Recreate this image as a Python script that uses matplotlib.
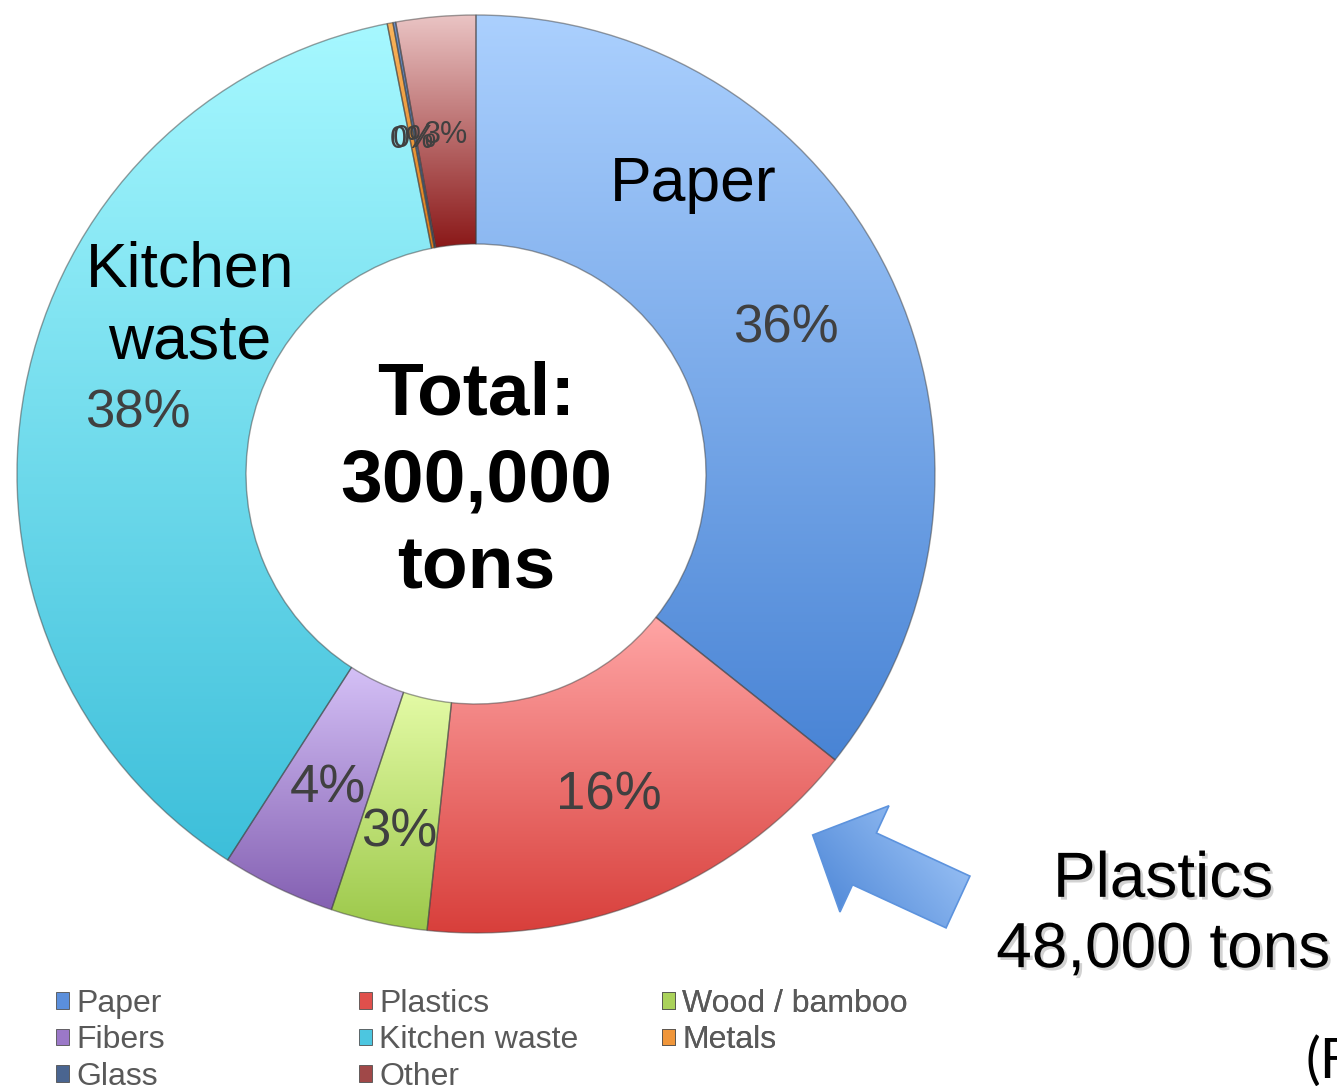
import numpy as np
import matplotlib
matplotlib.use("Agg")
import matplotlib.pyplot as plt
from matplotlib.patches import Patch, FancyArrow
from matplotlib.colors import LinearSegmentedColormap
import matplotlib.patheffects as pe

plt.rcParams['font.family'] = ['Liberation Sans', 'DejaVu Sans']

# ---- data ----
categories = ["Paper", "Plastics", "Wood / bamboo", "Fibers", "Kitchen waste",
              "Metals", "Glass", "Other"]
shares = [35.7, 16.0, 3.4, 4.0, 37.8, 0.2, 0.1, 2.8]  # percent of total
total_label = "Total:\n300,000\ntons"
callout_label = "Plastics\n48,000 tons"

top_colors = ["#abd0fe", "#ffa5a5", "#e4fba6", "#d4c0f6", "#a6f8ff",
              "#fab45c", "#6e90c4", "#eac4c4"]
bottom_colors = ["#4984d5", "#d83f3b", "#9cc84a", "#8460b2", "#3dbfda",
                 "#de7d1a", "#33507a", "#8a1818"]
legend_colors = ["#5b8fdc", "#e0504c", "#aad25a", "#9b78c8", "#4cc6e0",
                 "#f0963a", "#4a6590", "#a04848"]
label_sizes = [38, 38, 38, 38, 38, 22, 22, 22]
label_dist = [0.75, 0.75, 0.79, 0.75, 0.75, 0.75, 0.75, 0.75]

W, H = 1337, 1086
fig = plt.figure(figsize=(W / 100, H / 100), dpi=100)
ax = fig.add_axes([0, 0, 1, 1])

cx, cy = 476, H - 474
R = 459
ring = 229

wedges, _ = ax.pie(shares, startangle=90, counterclock=False, radius=R,
                   center=(cx, cy),
                   wedgeprops=dict(width=ring, edgecolor=(0.25, 0.25, 0.25, 0.5),
                                   linewidth=1.0))

# vertical gradient fill per wedge
for w, ct, cb in zip(wedges, top_colors, bottom_colors):
    ext = w.get_path().get_extents()
    cmap = LinearSegmentedColormap.from_list("g", [cb, ct])
    grad = np.linspace(0, 1, 256).reshape(-1, 1)
    im = ax.imshow(grad, cmap=cmap, origin="lower", aspect="auto",
                   extent=(ext.x0, ext.x1, ext.y0, ext.y1), zorder=1,
                   interpolation="bilinear")
    im.set_clip_path(w)
    w.set_facecolor("none")
    w.set_zorder(2)

# percent labels (computed from wedge angles)
for w, v, fs, d in zip(wedges, shares, label_sizes, label_dist):
    ang = np.deg2rad((w.theta1 + w.theta2) / 2)
    x = cx + R * d * np.cos(ang)
    y = cy + R * d * np.sin(ang) - 4
    ax.text(x, y, f"{v:.0f}%", ha="center", va="center", fontsize=fs,
            color="#404040", zorder=5)

# category labels on the ring
ax.text(693, H - 185, "Paper", ha="center", va="center", fontsize=45,
        color="black", zorder=5)
ax.text(190, H - 306, "Kitchen\nwaste", ha="center", va="center", fontsize=45,
        color="black", linespacing=1.3, zorder=5)

# center total
ax.text(cx, H - 482, total_label, ha="center", va="center", fontsize=54,
        fontweight="bold", color="black", linespacing=1.33, zorder=5)

# callout
shadow = [pe.SimplePatchShadow(offset=(2, -2), shadow_rgbFace="gray", alpha=0.35),
          pe.Normal()]
ax.text(1163, H - 915, callout_label, ha="center", va="center", fontsize=46,
        color="black", linespacing=1.22, zorder=5, path_effects=shadow)
ax.text(1305, H - 1078, "(F", ha="left", va="baseline", fontsize=40,
        color="black", family=["Lato", "DejaVu Sans"], zorder=5)

# block arrow with diagonal gradient
tail = (958, H - 902)
tip = (812.7, H - 835)
arr = FancyArrow(tail[0], tail[1], tip[0] - tail[0], tip[1] - tail[1], width=57,
                 head_width=117, head_length=57, length_includes_head=True,
                 facecolor="none", edgecolor="#5d93dd", linewidth=1.2, zorder=4)
ax.add_patch(arr)
ax_ext = arr.get_path().get_extents(arr.get_patch_transform())
gx, gy = np.meshgrid(np.linspace(0, 1, 200), np.linspace(0, 1, 200))
g = np.clip(0.6 * gx + 0.4 * gy, 0, 1)
acmap = LinearSegmentedColormap.from_list("a", ["#4681d4", "#a9cdfb"])
aim = ax.imshow(g, cmap=acmap, origin="lower", aspect="auto",
                extent=(ax_ext.x0, ax_ext.x1, ax_ext.y0, ax_ext.y1), zorder=3)
aim.set_clip_path(arr)

# legend: three columns, row-major order
col_x = [56, 359, 662]
for c in range(3):
    idx = list(range(c, len(categories), 3))
    handles = [Patch(facecolor=legend_colors[i], edgecolor="#505050",
                     linewidth=0.6, label=categories[i]) for i in idx]
    leg = ax.legend(handles=handles, loc="upper left",
                    bbox_to_anchor=(col_x[c], H - 989),
                    bbox_transform=ax.transData, frameon=False, fontsize=23,
                    handlelength=0.42, handleheight=0.42, handletextpad=0.22,
                    labelspacing=0.2, borderpad=0, borderaxespad=0)
    for t in leg.get_texts():
        t.set_color("#595959")
    ax.add_artist(leg)

ax.set_xlim(0, W)
ax.set_ylim(0, H)
ax.set_aspect("equal", adjustable="box")
ax.axis("off")

fig.savefig("out.png", dpi=100)
